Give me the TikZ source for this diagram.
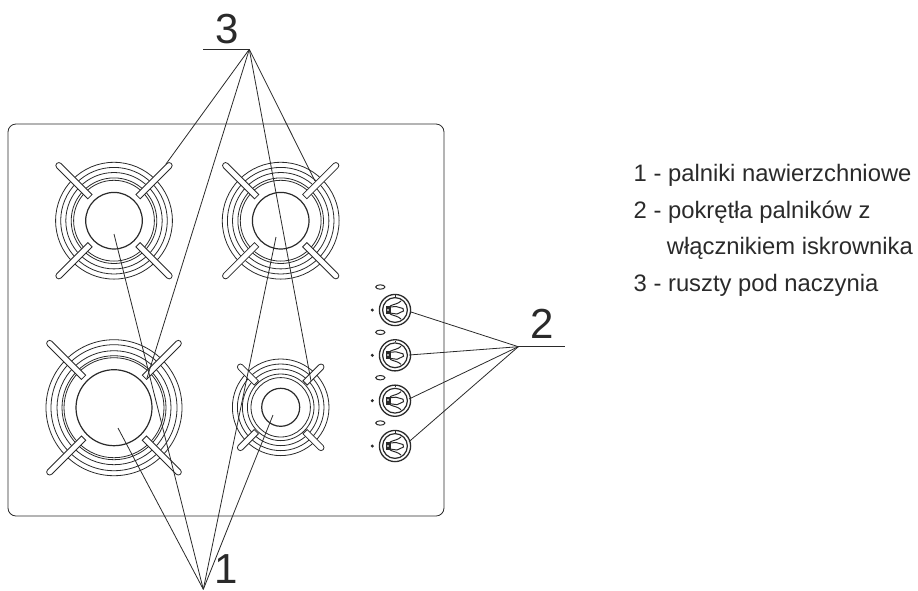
\documentclass[tikz,border=0pt]{standalone}
\usepackage{fontspec}
\setmainfont{Liberation Sans}
\definecolor{ink}{HTML}{2A2A2A}
\tikzset{
  ln/.style={draw=ink,line width=0.8pt},
  leader/.style={draw=ink,line width=0.8pt},
  bigdigit/.style={text=ink,font=\fontsize{42}{42}\selectfont,inner sep=0pt,anchor=base},
  legend/.style={text=ink,font=\fontsize{23.8}{26}\selectfont,inner sep=0pt,anchor=base west},
  ring/.style={draw=ink,line width=0.8pt},
  flame/.style={draw=ink,line width=1.2pt},
  underl/.style={draw=ink,line width=1.2pt}
}
% burner: x,y, name, flame r, bar inner, bar outer, ring radii
\newcommand{\burner}[7]{%
  \foreach \r in {#7} {\draw[ring] (#1,#2) circle (\r);}
  \draw[flame] (#1,#2) circle (#4);
  \coordinate (#3) at (#1,#2);
  \foreach \a in {45,135,225,315} {
    \begin{scope}[shift={(#1,#2)},rotate=\a]
      \draw[ln,fill=white] (#5,-3) -- ({#6-3},-3) arc (-90:90:3) -- (#5,3) -- cycle;
    \end{scope}
  }
}
\newcommand{\knob}[3]{%
  \coordinate (#3) at (#1,#2);
  \begin{scope}[shift={(#1,#2)}]
    \draw[ink,line width=1.3pt] (0,0) circle (15.6);
    \draw[ink,line width=1.2pt] (0,0) circle (12.4);
    \fill[ink] (-9.5,-4) rectangle (-4.5,4);
    \fill[white!60!ink] (-8.5,-1.5) rectangle (-6.5,0.5);
    \draw[ink,line width=1pt] (-5,-4) .. controls (-1,-6) and (3,-6) .. (6,-9);
    \draw[ink,line width=1pt] (-5,4) .. controls (-1,6) and (3,6) .. (6,9);
    \draw[ink,line width=1pt] (-5,-3) -- (1,-3.5) -- (8,-1.5) -- (8.5,1) -- (2,4) -- (-5,3);
    \draw[ink,line width=0.6pt] (0,-14.8) -- (0,-13.4);
  \end{scope}
  \draw[ink,line width=1pt] (#1-14.7,#2-23) ellipse (4.6 and 2.2);
  \fill[ink] (#1-22.7,#2) circle (1.7);
}
\begin{document}
\begin{tikzpicture}[x=1pt,y=-1pt]
\useasboundingbox (0,0) rectangle (918,590);
% hob plate
\draw[ln,rounded corners=8pt] (8,124) rectangle (444,516);
% burners
\burner{114}{220.7}{bA}{28.3}{34}{81}{58.4,53.3,48.2,42.8,40.4}
\burner{280.7}{220.7}{bB}{28.3}{34}{81}{58.4,53.3,48.2,42.8,40.4}
\burner{114}{407.7}{bC}{38}{43}{94}{68,63,57,52,50}
\burner{280.7}{407.3}{bD}{19}{34.5}{60}{48.3,43.3,38.3,33.3,29.7}
% knobs
\knob{395}{310}{kA}
\knob{395}{355.3}{kB}
\knob{395}{400.7}{kC}
\knob{395}{446}{kD}
% labels
\node[bigdigit] (lab3) at (227,43) {3};
\node[bigdigit] (lab2) at (542,338) {2};
\node[bigdigit] (lab1) at (226,583) {1};
\node[legend] (leg1) at (633.5,181.7) {1 - palniki nawierzchniowe};
\node[legend] (leg2) at (633.5,218.2) {2 - pokrętła palników z};
\node[legend] (leg2b) at (666.7,254.7) {włącznikiem iskrownika};
\node[legend] (leg3) at (633.5,291) {3 - ruszty pod naczynia};
% leader anchors
\coordinate (apexT) at (249.3,49.3);
\coordinate (barT) at (203,49.3);
\coordinate (apexK) at (518.3,346.7);
\coordinate (barK) at (565,346.7);
\coordinate (apexB) at (203.3,589.3);
\coordinate (gA) at (166,164);
\coordinate (gB) at (147,378);
\coordinate (gC) at (311,381);
\coordinate (gD) at (315,181);
\coordinate (eA) at (114,234);
\coordinate (eB) at (118,428);
\coordinate (eC) at (276,237);
\coordinate (eD) at (273,415);
\coordinate (k1) at (411,312);
\coordinate (k2) at (409,355);
\coordinate (k3) at (409,399);
\coordinate (k4) at (409,441.7);
\draw[underl] (barT) -- (apexT);
\draw[underl] (apexK) -- (barK);
\foreach \e in {gA,gB,gC,gD} {\draw[leader] (apexT) -- (\e);}
\foreach \e in {eA,eB,eC,eD} {\draw[leader] (apexB) -- (\e);}
\foreach \e in {k1,k2,k3,k4} {\draw[leader] (apexK) -- (\e);}
\end{tikzpicture}
\end{document}
